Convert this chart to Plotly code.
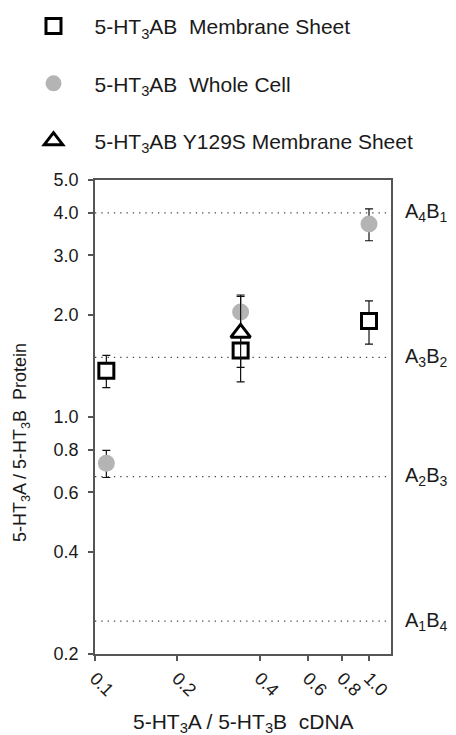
import math
import plotly.graph_objects as go

# ---- data ----
cdna_ratio = [0.11, 0.34, 1.0]
sheet_y = [1.37, 1.57, 1.92]
sheet_err = [0.15, 0.17, 0.28]
whole_y = [0.73, 2.04, 3.71]
whole_err = [0.067, 0.25, 0.40]
y129s_x = [0.34]
y129s_y = [1.77]
y129s_err = [0.50]

stoich_levels = [4.0, 1.5, 0.667, 0.25]
stoich_labels = ["A<sub>4</sub>B<sub>1</sub>", "A<sub>3</sub>B<sub>2</sub>",
                 "A<sub>2</sub>B<sub>3</sub>", "A<sub>1</sub>B<sub>4</sub>"]

y_ticks = [0.2, 0.4, 0.6, 0.8, 1.0, 2.0, 3.0, 4.0, 5.0]
y_ticktext = ["0.2", "0.4", "0.6", "0.8", "1.0", "2.0", "3.0", "4.0", "5.0"]
x_ticks = [0.1, 0.2, 0.4, 0.6, 0.8, 1.0]
x_ticktext = ["0.1", "0.2", "0.4", "0.6", "0.8", "1.0"]

FONT = "Arial, Liberation Sans, sans-serif"
TXT = "#1a1a1a"
AX = "#555555"
NB = "\u00a0"

fig = go.Figure()

err_style = dict(type="data", color="#111111", thickness=1.2, width=4)

fig.add_trace(go.Scatter(
    x=cdna_ratio, y=whole_y, mode="markers",
    name="5-HT<sub>3</sub>AB" + NB + NB + "Whole Cell",
    marker=dict(symbol="circle", size=17, color="#b4b4b4", line=dict(width=0)),
    error_y=dict(array=whole_err, **err_style),
    legendrank=2, legendgroup="g2",
))
fig.add_trace(go.Scatter(
    x=cdna_ratio, y=sheet_y, mode="markers",
    name="5-HT<sub>3</sub>AB" + NB + NB + "Membrane Sheet",
    marker=dict(symbol="square", size=15, color="white", line=dict(width=3, color="black")),
    error_y=dict(array=sheet_err, **err_style),
    legendrank=1, legendgroup="g1",
))
fig.add_trace(go.Scatter(
    x=y129s_x, y=y129s_y, mode="markers",
    name="5-HT<sub>3</sub>AB Y129S Membrane Sheet",
    marker=dict(symbol="triangle-up", size=17, color="white", line=dict(width=3, color="black")),
    error_y=dict(array=y129s_err, **err_style),
    legendrank=3, legendgroup="g3",
))

shapes = []
annotations = []
for lvl, lab in zip(stoich_levels, stoich_labels):
    shapes.append(dict(type="line", xref="paper", yref="y", x0=0, x1=1, y0=lvl, y1=lvl,
                       line=dict(color="#444444", width=1.3, dash="1.3px,5px"), layer="below"))
    annotations.append(dict(xref="paper", yref="y", x=1, y=math.log10(lvl), xanchor="left",
                            yanchor="middle", xshift=12, text=lab, showarrow=False,
                            font=dict(family=FONT, size=20, color=TXT)))

annotations.append(dict(xref="paper", yref="paper", x=0.5, y=0, xanchor="center", yanchor="middle",
                        yshift=-69, showarrow=False,
                        text="5-HT<sub>3</sub>A / 5-HT<sub>3</sub>B" + NB + NB + "cDNA",
                        font=dict(family=FONT, size=21, color=TXT)))
annotations.append(dict(xref="paper", yref="paper", x=0, y=0.445, xanchor="center", yanchor="middle",
                        xshift=-74, textangle=-90, showarrow=False,
                        text="5-HT<sub>3</sub>A / 5-HT<sub>3</sub>B" + NB + NB + "Protein",
                        font=dict(family=FONT, size=18, color=TXT)))

fig.update_layout(
    width=456, height=735,
    margin=dict(l=95, r=65, t=180, b=81, pad=0, autoexpand=False),
    paper_bgcolor="white", plot_bgcolor="white",
    font=dict(family=FONT, size=18, color=TXT),
    showlegend=True,
    legend=dict(xref="container", yref="container", x=0.0274, y=0.992,
                xanchor="left", yanchor="top", traceorder="grouped",
                tracegroupgap=27, font=dict(family=FONT, size=21, color=TXT),
                bgcolor="rgba(0,0,0,0)", itemwidth=72),
    shapes=shapes, annotations=annotations,
    xaxis=dict(type="log", range=[-1, 0.0803], tickmode="array", tickvals=x_ticks,
               ticktext=x_ticktext, tickangle=45, ticks="outside", ticklen=5,
               tickcolor=AX, tickwidth=1.5, showline=True, linecolor=AX, linewidth=1.5,
               mirror=True, showgrid=False, zeroline=False, automargin=False,
               tickfont=dict(family=FONT, size=18, color=TXT)),
    yaxis=dict(type="log", range=[math.log10(0.2), math.log10(5.0)], tickmode="array",
               tickvals=y_ticks, ticktext=y_ticktext, ticks="outside", ticklen=5,
               tickcolor=AX, tickwidth=1.5, showline=True, linecolor=AX, linewidth=1.5,
               mirror=True, showgrid=False, zeroline=False, automargin=False,
               ticklabelstandoff=6,
               tickfont=dict(family=FONT, size=18, color=TXT)),
)

fig.write_html("out.html")
